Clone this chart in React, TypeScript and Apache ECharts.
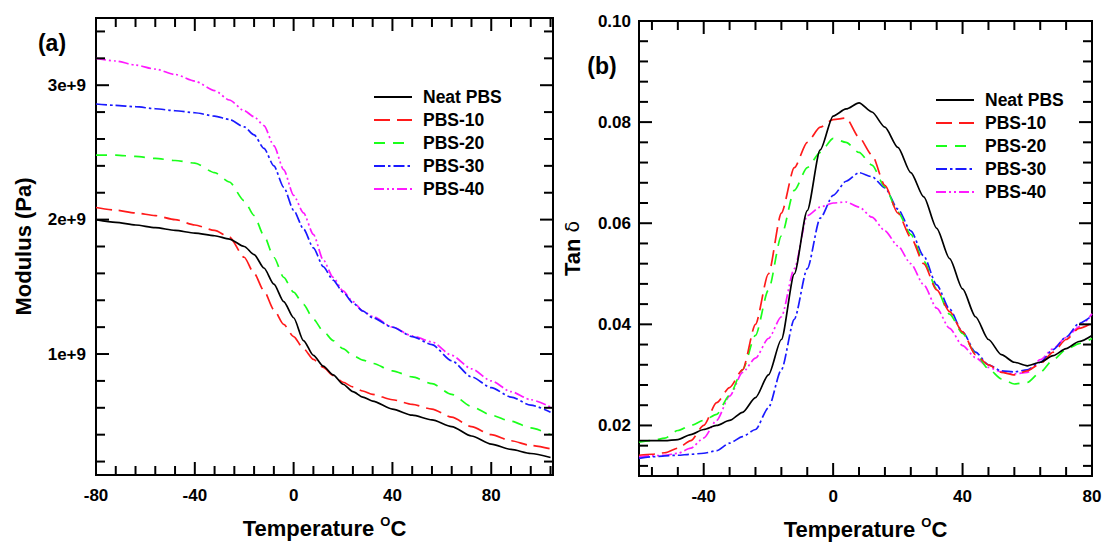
import React, { useEffect, useRef } from 'react';
import * as echarts from 'echarts';

const FONT = 'Liberation Sans';

const seriesNames = ['Neat PBS', 'PBS-10', 'PBS-20', 'PBS-30', 'PBS-40'];
const seriesColors = ['#000000', '#ff1a1a', '#1aff1a', '#1a1aff', '#ff1aff'];
const seriesDashes: any[] = ['solid', [16, 7], [11, 8], [11, 3, 2.5, 3], [10, 3, 2, 3, 2, 3]];

// ---- (a) storage modulus, in units of 1e9 Pa ----
const modTemps = [-80, -72, -64, -56, -48, -40, -32, -26, -20, -16, -12, -8, -4, 0, 4, 8, 12, 16, 20, 24, 28, 32, 40, 48, 56, 64, 72, 80, 88, 96, 104];
const modNeat = [2.0, 1.98, 1.96, 1.94, 1.92, 1.9, 1.88, 1.855, 1.8, 1.74, 1.64, 1.52, 1.39, 1.27, 1.1, 0.99, 0.91, 0.845, 0.775, 0.72, 0.68, 0.65, 0.59, 0.545, 0.51, 0.46, 0.39, 0.33, 0.29, 0.26, 0.23];
const modPbs10 = [2.09, 2.07, 2.05, 2.03, 2.0, 1.96, 1.92, 1.87, 1.72, 1.6, 1.47, 1.33, 1.22, 1.13, 1.04, 0.96, 0.9, 0.84, 0.79, 0.755, 0.725, 0.7, 0.66, 0.625, 0.59, 0.53, 0.46, 0.4, 0.355, 0.32, 0.295];
const modPbs20 = [2.48, 2.48, 2.47, 2.455, 2.44, 2.42, 2.35, 2.28, 2.14, 2.03, 1.88, 1.72, 1.57, 1.46, 1.37, 1.26, 1.17, 1.1, 1.04, 0.99, 0.955, 0.93, 0.875, 0.83, 0.78, 0.7, 0.61, 0.545, 0.5, 0.45, 0.4];
const modPbs30 = [2.86, 2.85, 2.84, 2.825, 2.81, 2.795, 2.77, 2.745, 2.69, 2.63, 2.53, 2.4, 2.24, 2.07, 1.93, 1.79, 1.65, 1.55, 1.46, 1.38, 1.32, 1.27, 1.2, 1.13, 1.07, 0.95, 0.83, 0.75, 0.68, 0.62, 0.567];
const modPbs40 = [3.2, 3.18, 3.15, 3.12, 3.08, 3.03, 2.96, 2.89, 2.81, 2.765, 2.7, 2.55, 2.37, 2.18, 2.05, 1.89, 1.7, 1.57, 1.47, 1.39, 1.32, 1.28, 1.2, 1.135, 1.09, 0.99, 0.89, 0.8, 0.72, 0.66, 0.606];
const modYMajor = [1, 2, 3];
const modYMinor = [0.2, 0.4, 0.6, 0.8, 1.2, 1.4, 1.6, 1.8, 2.2, 2.4, 2.6, 2.8, 3.2, 3.4];
const modXMajor = [-80, -40, 0, 40, 80];
const modXMinor = [-72, -64, -56, -48, -32, -24, -16, -8, 8, 16, 24, 32, 48, 56, 64, 72, 88, 96, 104];

// ---- (b) tan delta ----
const tanTemps = [-60, -56, -52, -48, -44, -40, -36, -32, -28, -24, -20, -16, -12, -8, -4, 0, 4, 8, 12, 16, 20, 24, 28, 32, 36, 40, 44, 48, 52, 56, 60, 64, 68, 72, 76, 80];
const tanNeat = [0.017, 0.017, 0.017, 0.0172, 0.0182, 0.0192, 0.02, 0.021, 0.0226, 0.0255, 0.03, 0.037, 0.05, 0.0625, 0.0745, 0.0812, 0.0826, 0.0838, 0.082, 0.079, 0.075, 0.07, 0.0652, 0.059, 0.053, 0.047, 0.0415, 0.037, 0.034, 0.0325, 0.0318, 0.0325, 0.0338, 0.0352, 0.0366, 0.0378];
const tanPbs10 = [0.0141, 0.0143, 0.0146, 0.0155, 0.017, 0.02, 0.0245, 0.0275, 0.031, 0.04, 0.05, 0.062, 0.071, 0.076, 0.079, 0.0805, 0.0808, 0.077, 0.0735, 0.0675, 0.062, 0.0572, 0.052, 0.0468, 0.0425, 0.0385, 0.034, 0.032, 0.0305, 0.03, 0.0308, 0.0322, 0.0345, 0.037, 0.0392, 0.0403];
const tanPbs20 = [0.0167, 0.017, 0.0175, 0.019, 0.02, 0.021, 0.0222, 0.026, 0.031, 0.0378, 0.0468, 0.0575, 0.0665, 0.071, 0.074, 0.0768, 0.076, 0.074, 0.0715, 0.0672, 0.0622, 0.0578, 0.0525, 0.047, 0.042, 0.0382, 0.0342, 0.0312, 0.0292, 0.0282, 0.0285, 0.0305, 0.033, 0.035, 0.0362, 0.0372];
const tanPbs30 = [0.0135, 0.0138, 0.014, 0.0141, 0.0143, 0.0145, 0.015, 0.0165, 0.0178, 0.0192, 0.0235, 0.031, 0.041, 0.051, 0.061, 0.0655, 0.0683, 0.07, 0.0692, 0.067, 0.0628, 0.0585, 0.0535, 0.0478, 0.043, 0.0385, 0.0345, 0.032, 0.0308, 0.0306, 0.031, 0.0325, 0.035, 0.0375, 0.0402, 0.0417];
const tanPbs40 = [0.0138, 0.014, 0.0141, 0.0145, 0.0155, 0.0175, 0.021, 0.0258, 0.0305, 0.0333, 0.0372, 0.0415, 0.051, 0.0615, 0.0632, 0.064, 0.0642, 0.0632, 0.0612, 0.0585, 0.0555, 0.052, 0.0478, 0.0432, 0.0392, 0.0358, 0.0334, 0.0315, 0.0306, 0.0302, 0.0305, 0.033, 0.0352, 0.0374, 0.0395, 0.0421];
const tanYMajor = [0.02, 0.04, 0.06, 0.08, 0.1];
const tanYMinor = [0.012, 0.016, 0.024, 0.028, 0.032, 0.036, 0.044, 0.048, 0.052, 0.056, 0.064, 0.068, 0.072, 0.076, 0.084, 0.088, 0.092, 0.096];
const tanXMajor = [-40, 0, 40, 80];
const tanXMinor = [-56, -48, -32, -24, -16, -8, 8, 16, 24, 32, 48, 56, 64, 72];

const modSeriesValues = [modNeat, modPbs10, modPbs20, modPbs30, modPbs40];
const tanSeriesValues = [tanNeat, tanPbs10, tanPbs20, tanPbs30, tanPbs40];

const MOD_X = [-80, 105];
const MOD_Y = [0.1, 3.5];
const TAN_X = [-60, 80];
const TAN_Y = [0.01, 0.1];

const labelStyle = { color: '#000', fontFamily: FONT, fontWeight: 'bold', fontSize: 17 };
const TICK_STYLE = { stroke: '#000', lineWidth: 2 };

// Inward tick marks on all four sides, positioned through the axes' own scales.
function tickSeries(grid: number, dim: 'x' | 'y', majors: number[], minors: number[], other: number[]) {
  const vals = [...majors.map((v) => [v, 1]), ...minors.map((v) => [v, 0])];
  const data = vals.map(([v, m]) => (dim === 'x' ? [v, other[0], m] : [other[0], v, m]));
  return {
    type: 'custom', xAxisIndex: grid, yAxisIndex: grid, silent: true, clip: false, z: 20,
    data,
    renderItem: (_params: any, api: any) => {
      const len = api.value(2) ? 13 : 9;
      if (dim === 'x') {
        const v = api.value(0);
        const a = api.coord([v, other[0]]);
        const b = api.coord([v, other[1]]);
        return {
          type: 'group', children: [
            { type: 'line', shape: { x1: a[0], y1: a[1], x2: a[0], y2: a[1] - len }, style: TICK_STYLE },
            { type: 'line', shape: { x1: b[0], y1: b[1], x2: b[0], y2: b[1] + len }, style: TICK_STYLE },
          ],
        };
      }
      const v = api.value(1);
      const a = api.coord([other[0], v]);
      const b = api.coord([other[1], v]);
      return {
        type: 'group', children: [
          { type: 'line', shape: { x1: a[0], y1: a[1], x2: a[0] + len, y2: a[1] }, style: TICK_STYLE },
          { type: 'line', shape: { x1: b[0], y1: b[1], x2: b[0] - len, y2: b[1] }, style: TICK_STYLE },
        ],
      };
    },
  };
}

const tempName = {
  name: '{t|Temperature }{s|O}{t|C}',
  nameLocation: 'middle',
  nameGap: 40,
  nameTextStyle: {
    rich: {
      t: { fontFamily: FONT, fontWeight: 'bold', fontSize: 22, color: '#000', lineHeight: 26 },
      s: { fontFamily: FONT, fontWeight: 'bold', fontSize: 13, color: '#000', lineHeight: 13, verticalAlign: 'top' },
    },
  },
};

function axis(gridIndex: number, range: number[], majors: number[], label: any, nameOpts: any) {
  return {
    type: 'value', gridIndex, min: range[0], max: range[1],
    splitLine: { show: false }, axisPointer: { show: false },
    axisLine: { show: false, onZero: false },
    axisTick: { show: false },
    axisLabel: { ...labelStyle, ...label, customValues: majors },
    ...nameOpts,
  };
}

function buildOption() {
  const xAxis = [
    axis(0, MOD_X, modXMajor, { margin: 12 }, tempName),
    axis(1, TAN_X, tanXMajor, { margin: 12 }, tempName),
  ];
  const yAxis = [
    axis(0, MOD_Y, modYMajor, { margin: 10, formatter: (v: number) => `${v}e+9` }, {
      name: 'Modulus (Pa)', nameLocation: 'middle', nameRotate: 90, nameGap: 62,
      nameTextStyle: { fontFamily: FONT, fontWeight: 'bold', fontSize: 22, color: '#000' },
    }),
    axis(1, TAN_Y, tanYMajor, { margin: 8, formatter: (v: number) => v.toFixed(2) }, {
      name: '{b|Tan }{d|δ}', nameLocation: 'middle', nameRotate: 90, nameGap: 56,
      nameTextStyle: {
        rich: {
          b: { fontFamily: FONT, fontWeight: 'bold', fontSize: 22, color: '#000' },
          d: { fontFamily: 'DejaVu Sans', fontWeight: 'normal', fontSize: 19, color: '#000' },
        },
      },
    }),
  ];

  const series: any[] = [];
  seriesNames.forEach((name, i) => {
    series.push({
      type: 'line', name, xAxisIndex: 0, yAxisIndex: 0,
      data: modTemps.map((t, k) => [t, modSeriesValues[i][k]]),
      showSymbol: false, symbol: 'none', smooth: 0.25, smoothMonotone: 'x',
      lineStyle: { color: seriesColors[i], width: 1.7, type: seriesDashes[i] },
      itemStyle: { color: seriesColors[i] },
      z: 10 - i,
    });
  });
  seriesNames.forEach((name, i) => {
    series.push({
      type: 'line', name, xAxisIndex: 1, yAxisIndex: 1,
      data: tanTemps.map((t, k) => [t, tanSeriesValues[i][k]]),
      showSymbol: false, symbol: 'none', smooth: 0.25, smoothMonotone: 'x',
      lineStyle: { color: seriesColors[i], width: 1.7, type: seriesDashes[i] },
      itemStyle: { color: seriesColors[i] },
      z: 10 - i,
    });
  });
  series.push(tickSeries(0, 'x', modXMajor, modXMinor, MOD_Y));
  series.push(tickSeries(0, 'y', modYMajor, modYMinor, MOD_X));
  series.push(tickSeries(1, 'x', tanXMajor, tanXMinor, TAN_Y));
  series.push(tickSeries(1, 'y', tanYMajor, tanYMinor, TAN_X));

  const legendBase = {
    orient: 'vertical', itemWidth: 38, itemHeight: 14, itemGap: 5, padding: 0,
    data: seriesNames, selectedMode: false,
    itemStyle: { opacity: 0, color: 'rgba(0,0,0,0)', borderWidth: 0 },
    textStyle: { fontFamily: FONT, fontWeight: 'bold', fontSize: 17.5, color: '#000', padding: [0, 0, 0, 6] },
  };

  const gridBox = { show: true, borderColor: '#000', borderWidth: 2, backgroundColor: 'transparent' };

  return {
    animation: false,
    backgroundColor: '#ffffff',
    textStyle: { fontFamily: FONT },
    grid: [
      { ...gridBox, left: 96, top: 18, width: 457, height: 457 },
      { ...gridBox, left: 639, top: 21, width: 453, height: 455 },
    ],
    xAxis, yAxis,
    legend: [
      { ...legendBase, left: 373, top: 88 },
      { ...legendBase, left: 935, top: 91 },
    ],
    graphic: [
      { type: 'text', x: 52, y: 43, style: { text: '(a)', fontFamily: FONT, fontWeight: 'bold', fontSize: 23, fill: '#000', textAlign: 'center', textVerticalAlign: 'middle' } },
      { type: 'text', x: 602, y: 66, style: { text: '(b)', fontFamily: FONT, fontWeight: 'bold', fontSize: 23, fill: '#000', textAlign: 'center', textVerticalAlign: 'middle' } },
    ],
    series,
  };
}

export default function App() {
  const ref = useRef<HTMLDivElement>(null);
  useEffect(() => {
    if (!ref.current) return;
    const chart = echarts.init(ref.current, undefined, { renderer: 'svg' });
    chart.setOption(buildOption() as any);
    return () => chart.dispose();
  }, []);
  return <div ref={ref} style={{ position: 'fixed', left: 0, top: 0, width: 1105, height: 546, background: '#fff' }} />;
}
